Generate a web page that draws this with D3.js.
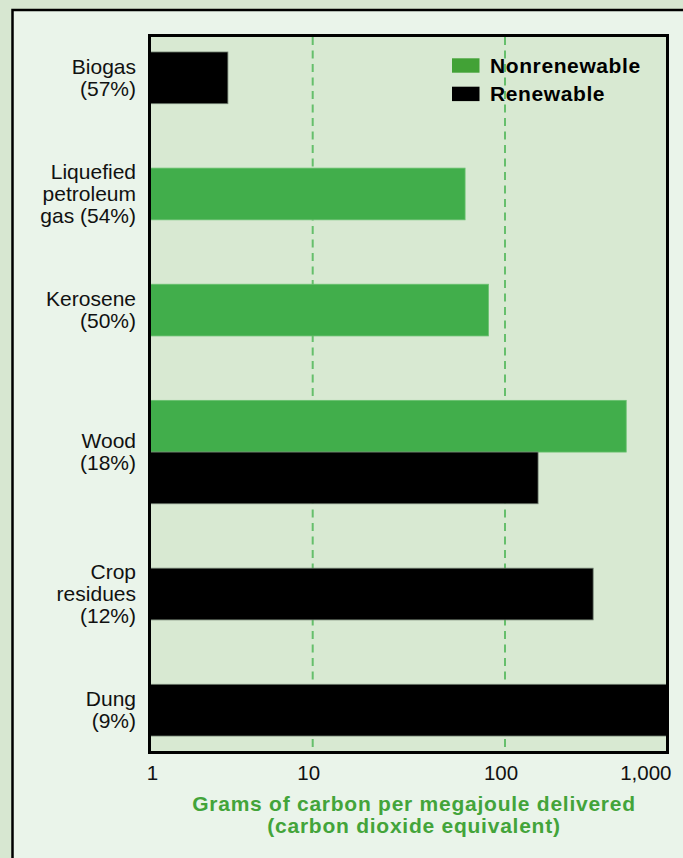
<!DOCTYPE html>
<html>
<head>
<meta charset="utf-8">
<script src="https://cdn.jsdelivr.net/npm/d3@7/dist/d3.min.js"></script>
<style>
  html, body { margin: 0; padding: 0; background: #d7e7d1; }
  svg { display: block; font-family: "Liberation Sans", Arial, Helvetica, sans-serif; }
</style>
</head>
<body>
<svg id="chart" width="683" height="858"></svg>
<script>
// ---- Data ----
const categories = ["Biogas", "Liquefied petroleum gas", "Kerosene", "Wood", "Crop residues", "Dung"];
const categoryLabels = [
  ["Biogas", "(57%)"],
  ["Liquefied", "petroleum", "gas (54%)"],
  ["Kerosene", "(50%)"],
  ["Wood", "(18%)"],
  ["Crop", "residues", "(12%)"],
  ["Dung", "(9%)"]
];
const seriesNames = ["Nonrenewable", "Renewable"];
const nonrenewable = [null, 62, 82, 560, null, null];
const renewable = [3, null, null, 160, 350, 1000];
const tickValues = [1, 10, 100, 1000];
const tickLabels = ["1", "10", "100", "1,000"];
const gridValues = [10, 100];
const axisTitle = ["Grams of carbon per megajoule delivered", "(carbon dioxide equivalent)"];

// ---- Styles ----
const W = 683, H = 858;
const colors = { Nonrenewable: "#41ae4b", Renewable: "#000000" };
const legendColors = { Nonrenewable: "#42a236", Renewable: "#000000" };
const plot = { left: 149.5, top: 35.5, right: 667.5, bottom: 752.5 };

const svg = d3.select("#chart");

// background strip + panel
svg.append("rect").attr("x", 0).attr("y", 0).attr("width", W).attr("height", H).attr("fill", "#d7e7d1");
svg.append("rect").attr("x", 12.5).attr("y", 10).attr("width", W + 20).attr("height", H + 20)
  .attr("fill", "#eaf4ea").attr("stroke", "#000").attr("stroke-width", 2.5);

// plot background
svg.append("rect").attr("x", plot.left).attr("y", plot.top)
  .attr("width", plot.right - plot.left).attr("height", plot.bottom - plot.top)
  .attr("fill", "#d8e9d2");

// ---- Scales ----
const x = d3.scaleLog()
  .domain(tickValues)
  .range([150.5, 312.7, 505, 667])
  .clamp(true);

// vertical layout: bars stacked per category, uniform gaps between categories
const rows = categories.map((c, i) => {
  const bars = [];
  if (nonrenewable[i] != null) bars.push({ series: "Nonrenewable", value: nonrenewable[i] });
  if (renewable[i] != null) bars.push({ series: "Renewable", value: renewable[i] });
  return { cat: c, i, bars };
});
const outerPad = 0.29, gapUnits = 1.246;
let cursor = outerPad;
rows.forEach((r, k) => {
  r.start = cursor;
  cursor += r.bars.length;
  r.end = cursor;
  if (k < rows.length - 1) cursor += gapUnits;
});
const totalUnits = cursor + outerPad;
const yU = d3.scaleLinear().domain([0, totalUnits]).range([plot.top + 1.5, plot.bottom - 1.5]);

// ---- Gridlines ----
svg.append("g").selectAll("line").data(gridValues).join("line")
  .attr("x1", d => x(d)).attr("x2", d => x(d))
  .attr("y1", plot.top + 1.5).attr("y2", plot.bottom - 1.5)
  .attr("stroke", "#66bf6c").attr("stroke-width", 2)
  .attr("stroke-dasharray", "8,5.5");

// ---- Bars ----
const barG = svg.append("g");
rows.forEach(r => {
  r.bars.forEach((b, j) => {
    const y0 = yU(r.start + j), y1 = yU(r.start + j + 1);
    barG.append("rect")
      .attr("x", x(1)).attr("y", y0)
      .attr("width", x(b.value) - x(1)).attr("height", y1 - y0)
      .attr("fill", colors[b.series])
      .attr("stroke", b.series === "Renewable" ? "#6f7d6f" : "#69c06f")
      .attr("stroke-width", 0.8);
  });
});

// plot frame
svg.append("rect").attr("x", plot.left).attr("y", plot.top)
  .attr("width", plot.right - plot.left).attr("height", plot.bottom - plot.top)
  .attr("fill", "none").attr("stroke", "#000").attr("stroke-width", 3);

// ---- Category labels ----
const lineH = 21.7;
const labelG = svg.append("g").attr("font-size", 21).attr("fill", "#111").attr("text-anchor", "end");
rows.forEach(r => {
  const cy = yU((r.start + r.end) / 2);
  const lines = categoryLabels[r.i];
  const t = labelG.append("text");
  lines.forEach((ln, k) => {
    t.append("tspan").attr("x", 136).attr("y", cy + (k - (lines.length - 1) / 2) * lineH + 7).text(ln);
  });
});

// ---- X axis ----
const axis = d3.axisBottom(x).tickValues(tickValues)
  .tickFormat((d, i) => tickLabels[i]).tickSize(0).tickPadding(0);
const axG = svg.append("g").attr("transform", `translate(0,${plot.bottom})`).call(axis);
axG.select(".domain").remove();
axG.selectAll("text")
  .attr("font-family", "'Liberation Sans', Arial, Helvetica, sans-serif")
  .attr("font-size", 20.5).attr("fill", "#111")
  .attr("dy", null).attr("y", 27)
  .attr("dx", (d, i) => i === 0 ? 1.5 : (i === tickLabels.length - 1 ? 4 : -4.5))
  .attr("text-anchor", (d, i) => i === tickLabels.length - 1 ? "end" : "middle");

// ---- Axis title ----
const tt = svg.append("text").attr("text-anchor", "middle").attr("font-size", 21)
  .attr("font-weight", "bold").attr("fill", "#43a43a").style("letter-spacing", "0.75px");
axisTitle.forEach((ln, k) => {
  tt.append("tspan").attr("x", 414).attr("y", 811 + k * 22.3).text(ln);
});

// ---- Legend ----
const lg = svg.append("g");
seriesNames.forEach((s, k) => {
  const y = 58.3 + k * 28.4;
  lg.append("rect").attr("x", 452).attr("y", y).attr("width", 27.5).attr("height", 14.4)
    .attr("fill", legendColors[s]);
  lg.append("text").attr("x", 490).attr("y", y + 14.4)
    .attr("font-size", 21).attr("font-weight", "bold").attr("fill", "#000")
    .style("letter-spacing", "0.6px").text(s);
});
</script>
</body>
</html>
